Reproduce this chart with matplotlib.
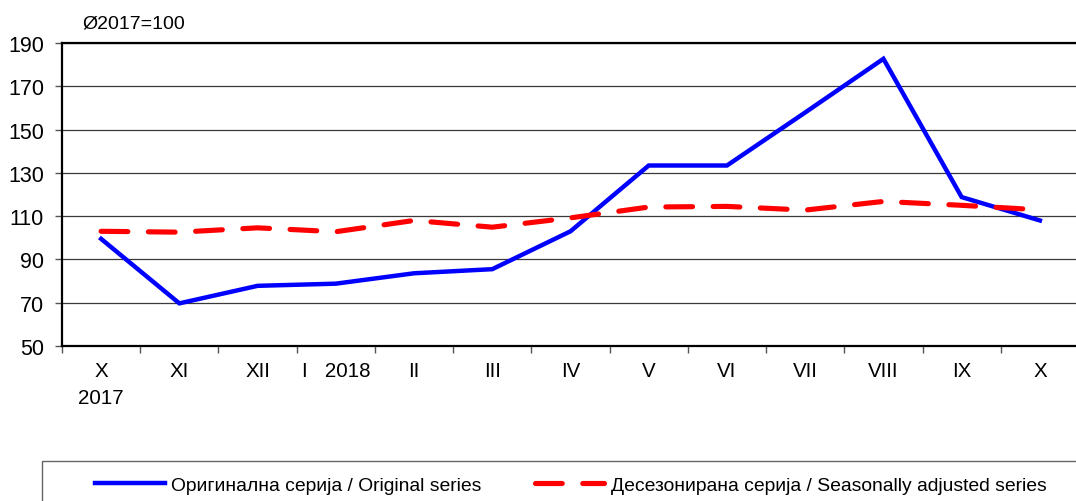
import numpy as np
import matplotlib.pyplot as plt
from matplotlib.patches import Rectangle
from matplotlib.lines import Line2D

plt.rcParams['font.family'] = ['Liberation Sans', 'DejaVu Sans']

months = ["X\n2017", "XI", "XII", "I   2018", "II", "III", "IV", "V", "VI", "VII", "VIII", "IX", "X"]
original = [99.5, 69.7, 77.8, 78.8, 83.6, 85.5, 103.0, 133.4, 133.4, 157.9, 182.7, 118.8, 108.0]
seasonal = [103.0, 102.6, 104.6, 102.8, 108.0, 104.9, 109.2, 114.2, 114.5, 112.8, 116.8, 115.0, 112.9]
yticks = [50, 70, 90, 110, 130, 150, 170, 190]

W, H = 1076, 502
fig = plt.figure(figsize=(W / 100, H / 100), dpi=100)
ax = fig.add_axes([62 / W, 1 - 347 / H, (1079 - 62) / W, (347 - 44) / H])

x = np.arange(len(months))
ax.plot(x, original, color='#0000ff', lw=3.2, solid_joinstyle='miter', zorder=3)
ax.plot(x, seasonal, color='#ff0000', lw=3.7, dashes=(5.2, 4.0),
        dash_capstyle='round', zorder=3)

ax.set_ylim(50, 190)
ax.set_yticks(yticks)
ax.set_xlim(-0.5, len(months) - 0.5)
ax.set_xticks(x)
ax.set_xticklabels(months, fontsize=14.8, linespacing=1.5)
ax.set_xticks(np.arange(len(months) + 1) - 0.5, minor=True)
ax.tick_params(axis='x', which='major', length=0, pad=11)
ax.tick_params(axis='x', which='minor', length=5, width=1, color='#555555', direction='out')
ax.tick_params(axis='y', length=5, width=1, color='#555555', pad=8, labelsize=15.5)
ax.yaxis.grid(True, color='#3a3a3a', lw=0.9)
ax.set_axisbelow(True)
for s in ['left', 'bottom', 'top']:
    ax.spines[s].set_linewidth(1.6)
    ax.spines[s].set_color('black')
ax.spines['right'].set_visible(False)

fig.text(82 / W, 1 - 24 / H, "Ø2017=100", fontsize=14, va='center', ha='left')

# legend box
fig.patches.append(Rectangle((42 / W, -0.05), 1.0, 1 - 462 / H + 0.05,
                             transform=fig.transFigure, fill=False,
                             edgecolor='#666666', lw=1.0))
handles = [Line2D([], [], color='#0000ff', lw=3.2),
           Line2D([], [], color='#ff0000', lw=3.7, dashes=(5.2, 4.0), dash_capstyle='round')]
labels = ["Оригинална серија / Original series",
          "Десезонирана серија / Seasonally adjusted series"]
fig.legend(handles, labels, loc='center left', bbox_to_anchor=(95 / W, 1 - 486 / H),
           ncol=2, frameon=False, fontsize=13.9, handlelength=3.6, handletextpad=0.35,
           columnspacing=2.75, borderpad=0, borderaxespad=0)

fig.savefig("out.png", dpi=100)
